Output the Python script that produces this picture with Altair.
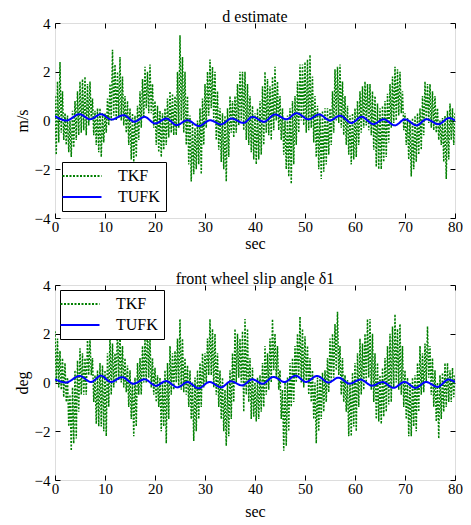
import altair as alt
import pandas as pd

# ---------------- data ----------------
T_STEP = 0.25  # sampling of the TKF traces (s)

tkf_top = [
    1.0, -1.4, 1.6, -0.9,   2.4, -0.5, 1.2, -0.8,   0.3, -1.0, 0.2, -1.3,   0.0, -1.5, 0.4, -1.1,
    0.8, -0.8, 1.2, -0.6,   1.6, -0.5, 1.7, -0.4,   1.8, -0.6, 1.5, -0.2,   1.6, 0.0, 0.9, -0.6,
    0.4, -1.0, 0.5, -1.3,   0.5, -1.5, 0.3, -0.9,   0.3, -0.5, 0.9, -0.2,   1.5, 0.0, 2.9, 0.2,
    2.3, 0.0, 2.0, 0.1,     2.6, 0.0, 1.8, -0.2,    1.0, -0.5, 0.8, -1.0,   0.5, -1.6, 0.3, -1.7,
    0.2, -1.5, 0.6, -0.8,   1.2, -0.3, 1.7, 0.1,    2.2, 0.5, 2.0, 0.3,     2.3, 0.3, 1.5, -0.3,
    0.8, -1.0, 0.6, -1.3,   0.4, -1.5, 0.3, -1.2,   0.5, -1.0, 0.9, -0.7,   1.2, -0.5, 1.1, -0.6,
    1.0, -0.6, 2.0, -0.3,   3.5, 0.0, 2.6, -0.5,    2.0, -1.0, 1.0, -1.8,   0.2, -2.5, -0.1, -2.2,
    -0.3, -2.0, 0.0, -1.8,  0.5, -2.2, 0.9, -1.0,   1.5, -0.3, 2.0, 0.2,    2.5, 0.5, 2.2, 0.0,
    2.0, -0.8, 1.2, -1.2,   0.5, -1.7, 0.3, -2.0,   0.2, -2.5, 0.5, -1.5,   1.0, -0.5, 0.8, -0.7,
    1.0, -0.5, 1.5, -0.2,   2.0, 0.0, 2.0, -0.4,    2.0, -0.8, 1.5, -1.0,   1.0, -1.3, 0.6, -1.6,
    0.3, -1.8, 0.5, -1.6,   0.8, -1.4, 1.4, -1.0,   2.0, -0.5, 1.7, -0.6,   1.4, -0.8, 1.8, -0.4,
    2.2, 0.0, 1.6, -0.4,    1.0, -0.8, 0.5, -1.4,   0.0, -2.0, 0.2, -2.3,   0.5, -2.6, 0.8, -1.8,
    1.0, -1.0, 1.6, -0.5,   2.3, 0.0, 2.3, -0.2,    2.4, -0.5, 2.5, -0.4,   2.7, -0.3, 1.8, -0.9,
    1.0, -1.5, 0.6, -2.0,   0.3, -2.4, 0.4, -2.1,   0.5, -1.8, 0.5, -1.4,   0.5, -1.0, 1.2, -0.5,
    2.1, 0.0, 2.2, -0.1,    2.3, -0.3, 1.6, -0.6,   1.0, -1.0, 0.6, -1.4,   0.2, -1.8, 0.3, -1.6,
    0.5, -1.5, 0.8, -1.0,   1.2, -0.5, 1.4, -0.3,   1.6, -0.2, 1.5, -0.4,   1.5, -0.6, 1.2, -1.2,
    1.0, -1.9, 0.7, -2.0,   0.5, -2.0, 0.6, -1.7,   0.8, -1.5, 1.1, -0.9,   1.5, -0.3, 1.8, -0.1,
    2.2, 0.0, 2.1, 0.2,     2.0, 0.3, 1.2, -0.4,    0.3, -1.0, 0.1, -1.6,   0.0, -2.3, 0.1, -2.0,
    0.2, -1.7, 0.3, -1.4,   0.5, -1.2, 1.0, -0.6,   1.6, 0.0, 1.5, -0.1,    1.5, -0.3, 1.2, -0.4,
    1.0, -0.5, 0.5, -0.8,   0.0, -1.0, 0.1, -1.7,   0.2, -2.4, 0.4, -1.6,   0.7, -0.8, 0.5, -1.0,
    0.3,
]

tkf_bot = [
    2.1, 0.0, 1.8, -0.2,    1.3, -0.3, 1.0, -0.6,   0.8, -0.8, 0.2, -1.8,   -0.5, -2.8, -0.2, -2.5,
    0.5, -2.3, 0.9, -1.2,   1.4, -0.5, 1.2, -0.5,   1.0, -0.5, 1.8, 0.3,    1.8, 0.3, 1.0, -0.8,
    0.3, -1.7, 0.5, -1.8,   0.8, -1.8, 0.7, -2.0,   0.5, -2.2, 1.2, -1.0,   2.0, -0.5, 1.6, -0.2,
    1.2, 0.0, 2.4, 0.1,     2.0, 0.0, 1.5, -0.2,    1.0, -0.4, 0.7, -1.0,   0.5, -1.5, 0.0, -2.2,
    0.2, -1.8, 0.8, -0.5,   1.0, -0.5, 1.5, 0.0,    1.8, 0.0, 2.4, 0.2,     1.8, -0.2, 1.0, -0.5,
    0.6, -0.8, 0.3, -1.0,   0.2, -2.0, 0.0, -1.8,   0.5, -2.5, 0.8, -1.5,   1.5, -0.5, 1.2, -0.3,
    1.3, 0.0, 1.8, -0.2,    2.6, -0.3, 1.8, -0.4,   1.0, -0.5, 0.7, -1.0,   0.5, -1.5, 0.0, -2.4,
    0.2, -2.0, 0.5, -1.5,   0.8, -1.0, 1.2, -0.2,   1.2, 0.0, 1.8, 0.3,     2.6, 0.3, 2.2, -0.2,
    2.0, -0.5, 1.2, -1.0,   0.5, -1.5, 0.2, -2.0,   -0.3, -2.6, 0.0, -2.2,  0.5, -1.5, 1.2, -0.8,
    2.2, 0.0, 2.0, 0.2,     1.8, 0.0, 2.1, -1.2,    2.6, -0.5, 2.2, -0.8,   1.0, -1.5, 0.6, -1.4,
    0.0, -1.6, 0.2, -1.5,   0.3, -1.2, 0.8, -1.0,   1.5, -0.5, 1.2, -0.3,   1.8, 0.0, 2.6, 0.5,
    2.0, 0.2, 1.5, -0.3,    0.5, -1.5, -0.3, -2.8,  0.0, -2.6, 0.2, -2.0,   0.8, -1.0, 1.0, -0.8,
    1.5, 0.0, 2.0, 0.2,     2.7, 0.0, 2.2, -0.2,    1.9, 0.0, 1.5, -0.5,    1.0, -0.8, 0.5, -1.5,
    0.0, -2.5, 0.2, -2.0,   0.3, -1.5, 0.4, -1.2,   0.5, -0.8, 1.0, -0.4,   1.8, 0.0, 2.0, 0.2,
    2.4, 0.5, 2.9, 0.3,     1.5, -0.5, 1.0, -0.8,   0.3, -1.2, 0.1, -2.2,   0.0, -2.2, 0.4, -1.8,
    0.8, -2.0, 1.2, -1.0,   1.8, -0.5, 1.6, -0.3,   2.0, 0.0, 2.6, 0.2,     2.6, -0.3, 2.0, -0.8,
    1.2, -1.5, 0.8, -1.6,   0.3, -1.7, 0.6, -1.4,   1.0, -1.2, 1.5, -0.9,   2.0, -0.8, 2.3, -0.2,
    2.8, 0.0, 2.2, -0.3,    2.4, -0.5, 1.5, -1.0,   0.5, -1.5, 0.2, -2.2,   0.0, -2.2, 0.2, -1.8,
    0.3, -2.0, 0.8, -1.2,   1.5, -0.5, 1.2, -0.4,   1.6, 0.0, 2.3, 0.2,     1.5, -0.5, 1.0, -1.0,
    0.5, -1.6, 0.0, -2.3,   0.3, -1.5, 0.4, -1.2,   0.8, -1.0, 0.8, -0.8,   0.5, -0.8, 0.6, -0.6,
    0.3,
]

tufk_top_t = [0, 2.3, 4.9, 7.0, 9.2, 11.3, 13.7, 15.9, 17.9, 20.0, 22.3, 24.3, 26.5, 28.8,
              31.0, 33.2, 35.3, 37.7, 39.5, 41.8, 44.0, 46.3, 48.3, 50.7, 52.8, 55.0, 57.0,
              59.3, 61.3, 63.7, 65.7, 68.0, 70.0, 72.3, 74.3, 76.7, 78.8, 80]
tufk_top_v = [0.18, 0.0, 0.26, 0.05, 0.26, 0.04, 0.22, -0.05, 0.15, -0.12, 0.08, -0.19, 0.01,
              -0.23, 0.01, -0.16, 0.08, -0.1, 0.15, -0.05, 0.25, 0.05, 0.3, 0.05, 0.25, 0.0,
              0.2, -0.1, 0.15, -0.15, 0.05, -0.2, 0.05, -0.2, 0.05, -0.15, 0.1, 0.0]

tufk_bot_t = [0, 2.2, 4.9, 7.2, 9.2, 11.2, 13.4, 15.7, 17.9, 20.2, 22.2, 24.5, 26.5, 28.7,
              30.9, 33.2, 35.2, 37.4, 39.5, 41.5, 43.7, 45.9, 48.1, 50.2, 52.4, 54.7, 56.7,
              58.9, 61.1, 63.4, 65.5, 67.7, 69.9, 72.1, 74.2, 76.5, 78.7, 80]
tufk_bot_v = [0.13, 0.0, 0.27, 0.02, 0.28, 0.02, 0.22, -0.05, 0.13, -0.13, 0.06, -0.2, 0.02,
              -0.24, 0.02, -0.2, 0.05, -0.12, 0.13, -0.05, 0.23, 0.02, 0.28, 0.02, 0.27, 0.0,
              0.2, -0.05, 0.12, -0.13, 0.02, -0.22, 0.02, -0.22, 0.02, -0.18, 0.12, 0.02]

series_names = ["TKF", "TUFK"]
series_colors = ["#008000", "#0000ff"]
x_ticks = [0, 10, 20, 30, 40, 50, 60, 70, 80]
y_ticks = [-4, -2, 0, 2, 4]

FONT = "Liberation Serif"
W, H = 400, 195


def panel(tkf, tt, tv, title, ytitle, legend_orient, legend_offset, sec_y):
    df_k = pd.DataFrame({"t": [i * T_STEP for i in range(len(tkf))], "v": tkf, "s": "TKF"})
    df_u = pd.DataFrame({"t": tt, "v": tv, "s": "TUFK"})
    xs = alt.Scale(domain=[0, 80], nice=False, zero=False)
    ys = alt.Scale(domain=[-4, 4], nice=False, zero=False)
    leg = alt.Legend(title=None, orient=legend_orient, offset=legend_offset,
                     fillColor="white", strokeColor="black", padding=6,
                     symbolType="M-3,0H3", symbolSize=169, symbolOffset=6,
                     symbolStrokeWidth=1.8,
                     labelFont=FONT, labelFontSize=16, labelColor="black",
                     rowPadding=5, labelOffset=28)
    color = alt.Color("s:N", scale=alt.Scale(domain=series_names, range=series_colors), legend=leg)
    dash = alt.StrokeDash("s:N", scale=alt.Scale(domain=series_names, range=[[2, 1.5], [1, 0]]), legend=leg)
    common = dict(domain=False, grid=False, tickSize=5, tickColor="black", tickWidth=1,
                  labelFont=FONT, labelFontSize=15, labelColor="black", labelFlush=False,
                  titleFont=FONT, titleFontSize=16, titleFontWeight="normal", titleColor="black")
    base_x = alt.Axis(orient="top", offset=-H, values=x_ticks, labelPadding=-6,
                      labelBaseline="top", title="sec", titleX=W / 2, titleY=sec_y,
                      titleBaseline="middle", titleAlign="center", **common)
    base_y = alt.Axis(orient="right", offset=-W, values=y_ticks, labelPadding=-10,
                      labelAlign="right", labelBaseline="middle", title=ytitle,
                      titleX=-33, titleY=H / 2, titleAngle=270, titleAlign="center",
                      titleBaseline="middle", **common)
    top_x = alt.Axis(orient="bottom", offset=-H, values=x_ticks, labels=False, title=None, **common)
    right_y = alt.Axis(orient="left", offset=-W, values=y_ticks, labels=False, title=None, **common)

    k = alt.Chart(df_k).mark_line(strokeWidth=1.5, clip=True).encode(
        x=alt.X("t:Q", scale=xs, axis=base_x),
        y=alt.Y("v:Q", scale=ys, axis=base_y),
        color=color, strokeDash=dash,
    )
    u = alt.Chart(df_u).mark_line(strokeWidth=2, interpolate="monotone", clip=True).encode(
        x=alt.X("t:Q", scale=xs, axis=top_x),
        y=alt.Y("v:Q", scale=ys, axis=right_y),
        color=color, strokeDash=dash,
    )
    return alt.layer(k, u).resolve_axis(x="independent", y="independent").properties(
        width=W, height=H,
        title=alt.TitleParams(title, font=FONT, fontSize=16, fontWeight="normal",
                              color="black", anchor="middle", frame="group", offset=-9),
    )


top = panel(tkf_top, tufk_top_t, tufk_top_v, "d estimate", "m/s", "bottom-left", 7, 25)
bot = panel(tkf_bot, tufk_bot_t, tufk_bot_v, "front wheel slip angle δ1", "deg", "top-left", 5, 31)

chart = alt.vconcat(top, bot, spacing=18).properties(
    padding={"left": 5, "top": 0, "right": 0, "bottom": 0}
).configure_view(stroke="black", strokeWidth=1).configure(background="white")

chart.save("out.html", embed_options={"renderer": "svg", "actions": False})
